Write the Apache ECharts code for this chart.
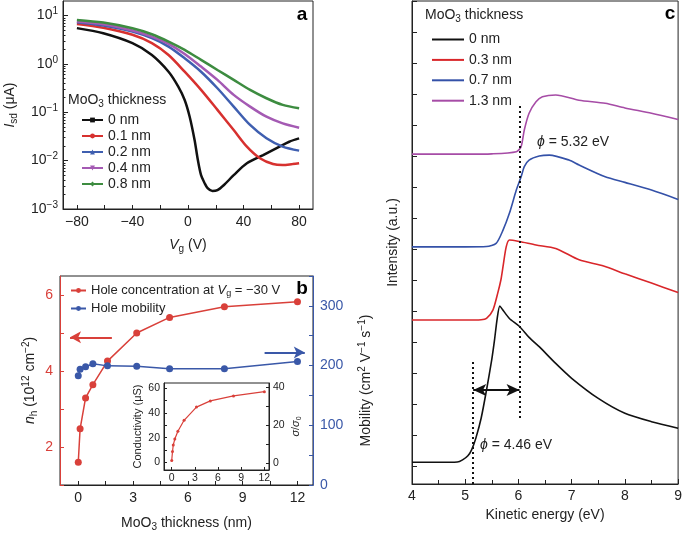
<!DOCTYPE html>
<html><head><meta charset="utf-8">
<script src="https://cdn.jsdelivr.net/npm/echarts@6/dist/echarts.min.js"></script>
<style>html,body{margin:0;padding:0;background:#fff}#c{width:685px;height:535px}</style>
</head><body><div id="c"></div>
<script>
// ---------- Panel a: Isd vs Vg (log) ----------
const vgBlack  = [-80,-61,-40,-26,-14,-7,-2.4,1.2,4.7,7.1,9.4,11.8,14.1,17.6,21.2,25.9,32.9,42.4,54.1,65.9,72.9,80];
const isdBlack = [5.5,4.3,2.68,1.53,0.69,0.34,0.18,0.081,0.027,0.0103,0.005,0.0035,0.0027,0.00236,0.00246,0.00314,0.005,0.0088,0.013,0.0195,0.0246,0.0288];
const vgRed    = [-80,-61,-40,-26,-14,-2.4,9.4,21.2,32.9,42.4,51.8,61.2,68.2,75.3,80];
const isdRed   = [6.7,5.6,4.0,2.7,1.53,0.69,0.29,0.112,0.043,0.0195,0.0112,0.0085,0.0081,0.0085,0.0088];
const vgOther  = [-80,-61,-40,-26,-14,-2.4,9.4,21.2,32.9,44.7,56.5,68.2,80];
const isdBlue  = [7.28,6.2,4.67,3.4,2.28,1.31,0.69,0.314,0.131,0.0547,0.029,0.0195,0.0161];
const isdPurple= [7.5,6.6,4.9,3.68,2.6,1.61,0.88,0.467,0.229,0.131,0.081,0.059,0.048];
const isdGreen = [8.13,7.16,5.47,4.11,2.9,1.95,1.21,0.75,0.467,0.29,0.195,0.142,0.121];
const vgTicks  = [-80,-60,-40,-20,0,20,40,60,80];
const vgLabels = [-80,-40,0,40,80];
const isdDecades = [0.001,0.01,0.1,1,10];
const legendA = ['0 nm','0.1 nm','0.2 nm','0.4 nm','0.8 nm'];

// ---------- Panel b ----------
const thickB   = [0,0.1,0.4,0.8,1.6,3.2,5,8,12];
const holeConc = [1.6,2.48,3.29,3.64,4.26,5.0,5.41,5.69,5.82];
const mobility = [183,194,198,203,199.5,199,194.5,194.5,206.7];
const thickTicks  = [0,1.5,3,4.5,6,7.5,9,10.5,12];
const thickLabels = [0,3,6,9,12];
const arrowRed  = [[1.84,4.885],[-0.45,4.885]];
const arrowBlue = [[10.2,222],[12.4,222]];
// inset
const thickInset   = [0,0.1,0.2,0.4,0.8,1.6,3.2,5,8,12];
const conductivity = [1.6,8.8,14.1,18.9,25.2,34,44.6,49.6,53.6,57];
const condTicks  = [0,10,20,30,40,50,60];
const condLabels = [0,20,40,60];
const ratioTicks = [0,10,20,30,40];
const ratioLabels= [0,20,40];
const insetXTicks= [0,3,6,9,12];

// ---------- Panel c ----------
const eBlack = [4.0,4.5,4.85,4.95,5.05,5.12,5.2,5.3,5.4,5.5,5.55,5.6,5.65,5.7,5.83,6.02,6.2,6.39,6.7,7.0,7.5,8.0,8.5,9.0];
const iBlack = [0.12,0.12,0.13,0.2,0.33,0.52,0.9,1.55,2.45,3.45,4.06,4.75,5.16,5.05,4.76,4.5,4.15,3.85,3.31,2.83,2.18,1.7,1.43,1.22];
const eRed   = [4.0,4.5,5.0,5.3,5.4,5.52,5.61,5.67,5.71,5.77,5.83,6.02,6.33,6.7,7.14,7.6,8.0,8.5,9.0];
const iRed   = [4.71,4.71,4.71,4.72,4.76,5.03,5.57,6.0,6.43,7.07,7.29,7.24,7.13,7.02,6.65,6.45,6.2,5.9,5.6];
const eBlue  = [4.0,4.5,5.0,5.4,5.58,5.71,5.83,5.96,6.05,6.11,6.2,6.39,6.58,6.95,7.14,7.63,8.0,8.5,9.0];
const iBlue  = [7.07,7.07,7.07,7.08,7.18,7.61,8.15,8.9,9.33,9.66,9.87,10.0,10.03,9.87,9.71,9.33,9.15,8.9,8.6];
const ePurple= [4.0,4.5,5.0,5.5,5.96,6.05,6.11,6.2,6.33,6.45,6.7,7.14,7.63,8.0,8.5,9.0];
const iPurple= [10.06,10.06,10.06,10.07,10.14,10.3,10.84,11.38,11.75,11.91,11.97,11.8,11.7,11.55,11.38,11.18];
const intensityTicks = [0,1,2,3,4,5,6,7,8,9,10,11,12,13,14,15];
const legendC = ['0 nm ','0.3 nm','0.7 nm','1.3 nm'];
const phiLine1 = [[6.02,1.55],[6.02,11.65]];
const phiLine2 = [[5.15,-0.58],[5.15,3.42]];
const phiArrow = [[5.15,2.45],[6.02,2.45]];

const FF = '"Liberation Sans", Arial, Helvetica, sans-serif';
const pair = (xs, ys) => xs.map((x, i) => [x, ys[i]]);
const minus = v => String(v).replace('-', '\u2212');
const rich = fs => ({
  i:   {fontStyle:'italic', fontSize:fs, fontFamily:FF, color:'#222'},
  sub: {fontSize:Math.round(fs*0.68), lineHeight:Math.round(fs*0.68), verticalAlign:'bottom', fontFamily:FF, color:'#222'},
  sup: {fontSize:Math.round(fs*0.68), lineHeight:Math.round(fs*0.68), verticalAlign:'top', fontFamily:FF, color:'#222'}
});
const minorLog = [];
[-3,-2,-1,0,1].forEach(k => { for (let m = 2; m <= 9; m++) { const v = m*Math.pow(10,k); if (v < 20) minorLog.push(+v.toPrecision(3)); } });

const K = '#222', RED_A='#d7312f', BLUE_A='#3f5fb0', PUR_A='#a45ab3', GRN_A='#3d8c40';
const RED_B='#d9403a', BLUE_B='#3a58a8';
const RED_C='#d9262a', BLUE_C='#3451a8', PUR_C='#a64ca6';

const tickIn = (len, extra) => Object.assign({show:true, inside:true, length:len, lineStyle:{color:K, width:1}}, extra||{});
const axLine = c => ({show:true, onZero:false, lineStyle:{color:c||K, width:1}});

const chart = echarts.init(document.getElementById('c'), null, {renderer:'canvas'});
const option = {
  animation:false,
  textStyle:{fontFamily:FF, color:K},
  grid:[
    {left:60, top:1, width:253, height:208, show:true, borderColor:K, borderWidth:1},
    {left:60, top:276, width:253, height:209, show:true, borderColor:K, borderWidth:1},
    {left:164, top:383, width:105, height:87, show:true, borderColor:K, borderWidth:1, backgroundColor:'#fff'},
    {left:412, top:1, width:268, height:483, show:true, borderColor:K, borderWidth:1}
  ],
  xAxis:[
    {gridIndex:0, type:'value', min:-90, max:90, axisLine:axLine(), splitLine:{show:false},
     axisTick:tickIn(4,{customValues:vgTicks}),
     axisLabel:{customValues:vgLabels, formatter:minus, fontSize:14, color:K, margin:6},
     name:'{i|V}{sub|g} (V)', nameLocation:'middle', nameGap:27,
     nameTextStyle:{fontSize:14, color:K, lineHeight:18, rich:rich(14)}},
    {gridIndex:1, type:'value', min:-1, max:12.85, axisLine:axLine(), splitLine:{show:false},
     axisTick:tickIn(4,{customValues:thickTicks}),
     axisLabel:{customValues:thickLabels, fontSize:14, color:K, margin:6},
     name:'MoO{sub|3} thickness (nm)', nameLocation:'middle', nameGap:29,
     nameTextStyle:{fontSize:14, color:K, lineHeight:18, rich:rich(14)}},
    {gridIndex:2, type:'value', min:-1, max:12.6, axisLine:axLine(), splitLine:{show:false},
     axisTick:tickIn(3,{customValues:insetXTicks}),
     axisLabel:{customValues:insetXTicks, fontSize:10.5, color:K, margin:3}},
    {gridIndex:3, type:'value', min:4, max:9, interval:1, axisLine:axLine(), splitLine:{show:false},
     axisTick:tickIn(5), minorTick:{show:true, splitNumber:2, length:4, lineStyle:{color:K}},
     axisLabel:{fontSize:14, color:K, margin:5},
     name:'Kinetic energy (eV)', nameLocation:'middle', nameGap:21,
     nameTextStyle:{fontSize:14, color:K, verticalAlign:'top'}}
  ],
  yAxis:[
    {gridIndex:0, type:'log', min:0.001, max:20, axisLine:axLine(), splitLine:{show:false},
     axisTick:tickIn(5,{customValues:isdDecades}),
     axisLabel:{customValues:isdDecades, fontSize:14, color:K, margin:5, lineHeight:18,
       formatter: v => { const e = Math.round(Math.log10(v)); return '10{s|' + minus(e) + '}'; },
       rich:{s:{fontSize:10, lineHeight:10, verticalAlign:'top', fontFamily:FF, color:K}}},
     name:'{i|I}{sub|sd} (\u03bcA)', nameLocation:'middle', nameGap:44, nameRotate:90,
     nameTextStyle:{fontSize:14, color:K, lineHeight:18, rich:rich(14)}},
    {gridIndex:0, type:'log', min:0.001, max:20, position:'left', axisLine:{show:false, onZero:false}, splitLine:{show:false},
     axisTick:tickIn(2.5,{customValues:minorLog}), axisLabel:{show:false}},
    {gridIndex:1, type:'value', min:1, max:6.5, interval:1, position:'left', axisLine:axLine(RED_B), splitLine:{show:false},
     axisTick:tickIn(4,{lineStyle:{color:RED_B}}),
     axisLabel:{fontSize:14, color:RED_B, margin:7, showMaxLabel:false, formatter: v => (v % 2 === 0 ? String(v) : '')},
     name:'{i|n}{sub|h} (10{sup|12} cm{sup|\u22122})', nameLocation:'middle', nameGap:21, nameRotate:90,
     nameTextStyle:{fontSize:14, color:K, lineHeight:18, rich:rich(14)}},
    {gridIndex:1, type:'value', min:0, max:350, interval:50, position:'right', axisLine:axLine(BLUE_B), splitLine:{show:false},
     axisTick:tickIn(4,{lineStyle:{color:BLUE_B}}),
     axisLabel:{fontSize:14, color:BLUE_B, margin:7, formatter: v => (v % 100 === 0 ? String(v) : '')},
     name:'Mobility (cm{sup|2} V{sup|\u22121} s{sup|\u22121})', nameLocation:'middle', nameGap:44, nameRotate:90,
     nameTextStyle:{fontSize:14, color:K, lineHeight:18, rich:rich(14)}},
    {gridIndex:2, type:'value', min:-6, max:64, position:'left', axisLine:axLine(), splitLine:{show:false},
     axisTick:tickIn(3,{customValues:condTicks}),
     axisLabel:{customValues:condLabels, fontSize:10.5, color:K, margin:4},
     name:'Conductivity (\u03bcS)', nameLocation:'middle', nameGap:21, nameRotate:90,
     nameTextStyle:{fontSize:11, color:K}},
    {gridIndex:2, type:'value', min:-3.8, max:42.4, position:'right', axisLine:axLine(), splitLine:{show:false},
     axisTick:tickIn(3,{customValues:ratioTicks}),
     axisLabel:{customValues:ratioLabels, fontSize:10.5, color:K, margin:4},
     name:'{i|\u03c3}/{i|\u03c3}{sub|0}', nameLocation:'middle', nameGap:20, nameRotate:90,
     nameTextStyle:{fontSize:11, color:K, lineHeight:14, rich:rich(11)}},
    {gridIndex:3, type:'value', min:-0.58, max:15, axisLine:axLine(), splitLine:{show:false},
     axisTick:tickIn(5,{customValues:intensityTicks}), axisLabel:{show:false},
     name:'Intensity (a.u.)', nameLocation:'middle', nameGap:12, nameRotate:90,
     nameTextStyle:{fontSize:14, color:K}}
  ],
  legend:[
    {data:legendA, orient:'vertical', left:81, top:113, padding:0, itemWidth:21, itemHeight:6, itemGap:2,
     selectedMode:false, textStyle:{fontSize:14, color:K, lineHeight:13.5, fontFamily:FF}},
    {data:['Hole concentration','Hole mobility'], orient:'vertical', left:70, top:283, padding:0, itemWidth:15, itemHeight:6, itemGap:3,
     selectedMode:false,
     formatter: n => n === 'Hole concentration' ? 'Hole concentration at {i|V}{sub|g} = \u221230 V' : n,
     textStyle:{fontSize:13, color:K, lineHeight:15, fontFamily:FF, rich:rich(13)}},
    {data:legendC, orient:'vertical', left:432, top:32, padding:0, itemWidth:32, itemHeight:2, itemGap:5.4, icon:'rect',
     selectedMode:false, textStyle:{fontSize:14, color:K, lineHeight:15, fontFamily:FF}}
  ],
  series:[
    {name:'0 nm', type:'line', xAxisIndex:0, yAxisIndex:0, data:pair(vgBlack,isdBlack), smooth:0.3,
     symbol:'rect', symbolSize:4, showSymbol:false, lineStyle:{color:'#111', width:2.5}, itemStyle:{color:'#111'}},
    {name:'0.1 nm', type:'line', xAxisIndex:0, yAxisIndex:0, data:pair(vgRed,isdRed), smooth:0.3,
     symbol:'circle', symbolSize:4, showSymbol:false, lineStyle:{color:RED_A, width:2.5}, itemStyle:{color:RED_A}},
    {name:'0.2 nm', type:'line', xAxisIndex:0, yAxisIndex:0, data:pair(vgOther,isdBlue), smooth:0.3,
     symbol:'triangle', symbolSize:5, showSymbol:false, lineStyle:{color:BLUE_A, width:2.5}, itemStyle:{color:BLUE_A}},
    {name:'0.4 nm', type:'line', xAxisIndex:0, yAxisIndex:0, data:pair(vgOther,isdPurple), smooth:0.3,
     symbol:'triangle', symbolRotate:180, symbolSize:5, showSymbol:false, lineStyle:{color:PUR_A, width:2.5}, itemStyle:{color:PUR_A}},
    {name:'0.8 nm', type:'line', xAxisIndex:0, yAxisIndex:0, data:pair(vgOther,isdGreen), smooth:0.3,
     symbol:'diamond', symbolSize:5, showSymbol:false, lineStyle:{color:GRN_A, width:2.5}, itemStyle:{color:GRN_A}},

    {name:'Hole concentration', type:'line', xAxisIndex:1, yAxisIndex:2, data:pair(thickB,holeConc),
     symbol:'circle', symbolSize:7, lineStyle:{color:RED_B, width:1.5}, itemStyle:{color:RED_B}, z:3,
     markLine:{silent:true, symbol:['none','arrow'], symbolSize:[9,11], label:{show:false},
       lineStyle:{color:RED_B, width:2, type:'solid'},
       data:[[{coord:arrowRed[0]},{coord:arrowRed[1]}]]}},
    {name:'Hole mobility', type:'line', xAxisIndex:1, yAxisIndex:3, data:pair(thickB,mobility),
     symbol:'circle', symbolSize:7, lineStyle:{color:BLUE_B, width:1.5}, itemStyle:{color:BLUE_B},
     markLine:{silent:true, symbol:['none','arrow'], symbolSize:[9,11], label:{show:false},
       lineStyle:{color:BLUE_B, width:2, type:'solid'},
       data:[[{coord:arrowBlue[0]},{coord:arrowBlue[1]}]]}},
    {name:'Conductivity', type:'line', xAxisIndex:2, yAxisIndex:4, data:pair(thickInset,conductivity),
     symbol:'circle', symbolSize:3, lineStyle:{color:RED_B, width:1.2}, itemStyle:{color:RED_B}},

    {name:'0 nm ', type:'line', xAxisIndex:3, yAxisIndex:6, data:pair(eBlack,iBlack), smooth:0.25,
     symbol:'none', lineStyle:{color:'#111', width:1.6}, itemStyle:{color:'#111'},
     markLine:{silent:true, label:{show:false}, data:[
       [{coord:phiLine1[0], symbol:'none', lineStyle:{color:'#111', width:2, type:[2,3]}},{coord:phiLine1[1], symbol:'none'}],
       [{coord:phiLine2[0], symbol:'none', lineStyle:{color:'#111', width:2, type:[2,3]}},{coord:phiLine2[1], symbol:'none'}],
       [{coord:phiArrow[0], symbol:'arrow', symbolSize:[9,13], lineStyle:{color:'#111', width:1.8, type:'solid'}},{coord:phiArrow[1], symbol:'arrow', symbolSize:[9,13]}]
     ]}},
    {name:'0.3 nm', type:'line', xAxisIndex:3, yAxisIndex:6, data:pair(eRed,iRed), smooth:0.25,
     symbol:'none', lineStyle:{color:RED_C, width:1.6}, itemStyle:{color:RED_C}},
    {name:'0.7 nm', type:'line', xAxisIndex:3, yAxisIndex:6, data:pair(eBlue,iBlue), smooth:0.25,
     symbol:'none', lineStyle:{color:BLUE_C, width:1.6}, itemStyle:{color:BLUE_C}},
    {name:'1.3 nm', type:'line', xAxisIndex:3, yAxisIndex:6, data:pair(ePurple,iPurple), smooth:0.25,
     symbol:'none', lineStyle:{color:PUR_C, width:1.6}, itemStyle:{color:PUR_C}}
  ],
  graphic:[
    {type:'text', x:302, y:15, style:{text:'a', font:'bold 19px '+FF, fill:'#000', align:'center', verticalAlign:'middle', textAlign:'center', textVerticalAlign:'middle'}},
    {type:'text', x:302, y:289, style:{text:'b', font:'bold 19px '+FF, fill:'#000', align:'center', verticalAlign:'middle', textAlign:'center', textVerticalAlign:'middle'}},
    {type:'text', x:670, y:14, style:{text:'c', font:'bold 19px '+FF, fill:'#000', align:'center', verticalAlign:'middle', textAlign:'center', textVerticalAlign:'middle'}},
    {type:'text', x:68, y:100, style:{text:'MoO{sub|3} thickness', font:'14px '+FF, fill:K, lineHeight:18, rich:rich(14), verticalAlign:'middle', textVerticalAlign:'middle'}},
    {type:'text', x:425, y:15, style:{text:'MoO{sub|3} thickness', font:'14px '+FF, fill:K, lineHeight:18, rich:rich(14), verticalAlign:'middle', textVerticalAlign:'middle'}},
    {type:'text', x:537, y:142, style:{text:'{i|\u03d5} = 5.32 eV', font:'14px '+FF, fill:K, lineHeight:18, rich:rich(14), verticalAlign:'middle', textVerticalAlign:'middle'}},
    {type:'text', x:480, y:445, style:{text:'{i|\u03d5} = 4.46 eV', font:'14px '+FF, fill:K, lineHeight:18, rich:rich(14), verticalAlign:'middle', textVerticalAlign:'middle'}}
  ]
};
chart.setOption(option);
</script>
</body></html>
